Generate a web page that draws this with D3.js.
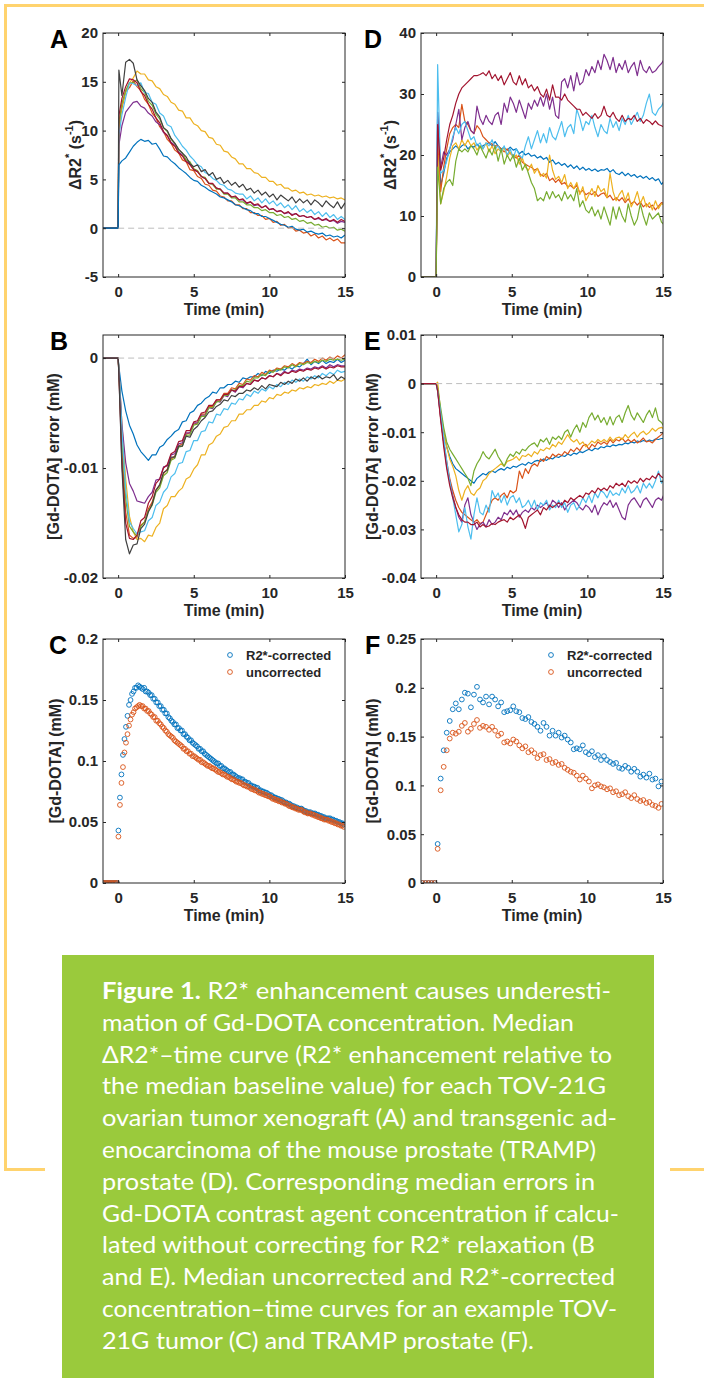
<!DOCTYPE html>
<html>
<head>
<meta charset="utf-8">
<script src="https://cdn.jsdelivr.net/npm/d3@7"></script>
<style>
  body { margin: 0; background: #fff; }
  svg { display: block; }
</style>
</head>
<body>
<div id="figure"></div>
<script>
// ---------------------------------------------------------------
// Data
// ---------------------------------------------------------------

// time grids (min)
const timeAB = [-1, 0, 0.05].concat(d3.range(1, 61).map(i => i * 0.25));
const timeDE = [-1, 0].concat(d3.range(76).map(i => 0.1 + 0.2 * i));
const timeC = d3.range(160).map(i => -0.98 + 0.1 * i);
const timeF = d3.range(80).map(i => -0.9 + 0.2 * i);

// Panel A: delta R2* (1/s), TOV-21G tumours
const aBlue = [0, 0, 6.5,
  6.9, 7.2, 7.8, 8.4,  8.8, 9.1, 8.9, 9.0,  8.6, 8.7, 8.1, 7.4,  7.3, 6.9, 6.6, 6.2,
  5.9, 5.6, 5.2, 4.9,  4.8, 4.4, 4.2, 3.9,  3.7, 3.5, 3.2, 3.1,  2.9, 2.7, 2.4, 2.3,
  2.1, 1.9, 1.8, 1.5,  1.5, 1.2, 1.2, 1.0,  0.8, 0.6, 0.4, 0.3,  0.1, 0.2, -0.1, -0.2,
  -0.1, -0.4, -0.3, -0.5,  -0.6, -0.5, -0.8, -0.7,  -0.9, -0.8, -1.0, -0.7];
const aRed = [0, 0, 11.0,
  12.3, 14.0, 14.4, 15.1,  14.5, 14.1, 13.2, 12.7,  11.8, 11.3, 10.4, 9.9,  9.1, 8.7, 8.0, 7.7,
  7.0, 6.8, 6.0, 5.9,  5.3, 5.1, 4.5, 4.4,  3.9, 3.8, 3.3, 3.2,  2.8, 2.8, 2.4, 2.4,
  2.0, 2.0, 1.6, 1.6,  1.3, 1.3, 0.9, 1.0,  0.6, 0.7, 0.3, 0.4,  0.0, 0.1, -0.3, -0.2,
  -0.5, -0.4, -0.8, -0.6,  -1.0, -0.8, -1.2, -1.0,  -1.3, -1.1, -1.5, -1.5];
const aYellow = [0, 0, 9.5,
  12.5, 14.0, 14.9, 15.4,  16.1, 15.8, 15.8, 15.2,  15.1, 14.5, 14.3, 13.7,  13.5, 12.9, 12.7, 12.1,
  12.0, 11.3, 11.3, 10.7,  10.5, 10.0, 9.9, 9.3,  9.2, 8.6, 8.5, 7.9,  7.8, 7.3, 7.1, 6.6,
  6.6, 6.1, 6.1, 5.7,  5.6, 5.2, 5.2, 4.8,  4.8, 4.4, 4.5, 4.1,  4.1, 3.8, 3.9, 3.6,
  3.7, 3.4, 3.5, 3.3,  3.4, 3.2, 3.3, 3.1,  3.2, 3.0, 3.1, 2.9];
const aPurple = [0, 0, 8.5,
  10.5, 11.9, 12.4, 12.9,  13.0, 12.5, 12.3, 11.8,  11.5, 10.9, 10.6, 9.8,  9.5, 8.8, 8.5, 7.8,
  7.5, 6.9, 6.6, 6.0,  5.8, 5.3, 5.1, 4.6,  4.5, 4.1, 4.0, 3.6,  3.6, 3.2, 3.2, 2.9,
  2.9, 2.5, 2.7, 2.3,  2.4, 2.1, 2.3, 1.9,  2.0, 1.7, 1.8, 1.5,  1.6, 1.4, 1.5, 1.2,
  1.3, 1.1, 1.2, 0.9,  1.0, 0.8, 0.9, 0.7,  0.8, 0.5, 0.7, 0.6];
const aGreen = [0, 0, 10.5,
  12.8, 14.1, 14.9, 14.9,  15.2, 14.3, 13.9, 13.0,  12.6, 11.7, 11.2, 10.3,  9.9, 9.1, 8.7, 8.0,
  7.7, 7.0, 6.8, 6.1,  5.9, 5.3, 5.2, 4.6,  4.5, 4.0, 4.0, 3.5,  3.5, 3.1, 3.1, 2.7,
  2.7, 2.4, 2.4, 2.1,  2.1, 1.8, 1.9, 1.6,  1.6, 1.3, 1.4, 1.1,  1.2, 0.9, 1.0, 0.7,
  0.8, 0.5, 0.6, 0.3,  0.4, 0.1, 0.2, 0.0,  0.1, -0.2, -0.1, -0.3];
const aLightBlue = [0, 0, 9.5,
  11.6, 13.4, 14.9, 14.8,  14.6, 14.9, 13.9, 13.8,  12.9, 12.7, 11.8, 11.5,  10.6, 10.4, 9.5, 9.0,
  8.4, 8.0, 7.4, 7.0,  6.5, 6.3, 5.7, 5.5,  5.1, 4.9, 4.5, 4.4,  4.0, 3.9, 3.6, 3.5,
  3.5, 3.0, 3.3, 2.8,  3.1, 2.6, 3.0, 2.5,  2.8, 2.3, 2.6, 2.1,  2.4, 1.9, 2.3, 1.7,
  2.0, 1.6, 1.9, 1.4,  1.7, 1.2, 1.6, 1.1,  1.4, 0.9, 1.2, 0.9];
const aDarkRed = [0, 0, 11.5,
  13.3, 14.5, 15.3, 15.2,  14.9, 14.0, 13.6, 12.7,  12.2, 11.3, 10.8, 9.9,  9.5, 8.7, 8.4, 7.7,
  7.4, 6.8, 6.5, 6.0,  5.8, 5.3, 5.1, 4.6,  4.6, 4.1, 4.0, 3.6,  3.6, 3.2, 3.3, 2.9,
  3.0, 2.6, 2.7, 2.4,  2.5, 2.1, 2.3, 1.9,  2.0, 1.7, 1.8, 1.5,  1.7, 1.3, 1.5, 1.2,
  1.3, 1.1, 1.2, 0.9,  1.1, 0.8, 1.0, 0.7,  0.9, 0.6, 0.9, 0.7];
const aBlack = [0, 0, 16.2,
  13.6, 17.0, 17.3, 16.9,  15.2, 14.6, 14.1, 13.3,  12.9, 11.9, 11.4, 10.3,  10.0, 9.2, 8.7, 8.1,
  7.7, 7.3, 6.6, 6.3,  6.5, 5.8, 6.0, 5.4,  5.7, 5.0, 5.2, 4.6,  4.9, 4.4, 4.7, 4.2,
  4.5, 3.9, 4.1, 3.6,  3.9, 3.4, 3.7, 3.2,  3.5, 2.9, 3.4, 3.1,  2.8, 3.2, 2.6, 3.0,
  2.6, 2.9, 2.4, 2.9,  2.6, 2.2, 2.8, 2.4,  2.1, 2.7, 2.0, 2.6];

// Panel B: [Gd-DOTA] error, in 1e-3 mM
const bBlue = [0, 0, -0.8,
  -3.0, -4.8, -6.1, -6.9,  -7.9, -8.5, -8.9, -9.3,  -8.8, -8.8, -8.1, -7.9,  -7.4, -7.1, -6.7, -6.5,
  -5.8, -5.7, -5.0, -4.8,  -4.3, -4.1, -3.7, -3.5,  -3.1, -3.2, -2.7, -2.7,  -2.4, -2.4, -2.1, -2.2,
  -1.8, -1.9, -1.7, -1.7,  -1.4, -1.6, -1.2, -1.4,  -1.1, -1.2, -1.0, -1.1,  -0.8, -1.0, -0.7, -0.8,
  -0.5, -0.1, -0.6, -0.3,  -0.5, -0.2, -0.5, -0.3,  -0.4, -0.1, -0.4, -0.2];
const bRed = [0, 0, -1.3,
  -8.5, -14.0, -16.1, -16.4,  -16.3, -15.2, -14.9, -13.7,  -13.1, -12.0, -11.6, -10.5,  -10.1, -9.2, -8.9, -8.0,
  -7.8, -6.9, -6.8, -6.0,  -5.9, -5.1, -5.1, -4.4,  -4.4, -3.8, -3.8, -3.2,  -3.2, -2.7, -2.8, -2.3,
  -2.4, -1.9, -2.0, -1.6,  -1.7, -1.3, -1.5, -1.1,  -1.2, -0.9, -1.0, -0.7,  -0.8, -0.5, -0.7, -0.4,
  -0.5, -0.3, -0.4, -0.1,  -0.3, 0.0, -0.2, 0.1,  -0.1, 0.2, 0.0, 0.3];
const bYellow = [0, 0, -1.0,
  -6.0, -11.0, -14.4, -15.8,  -16.5, -16.4, -16.7, -16.1,  -16.2, -15.4, -15.0, -13.7,  -13.4, -12.6, -12.6, -12.1,
  -11.8, -11.0, -10.8, -10.1,  -9.7, -8.8, -8.8, -7.9,  -7.7, -7.1, -6.9, -6.3,  -6.2, -5.7, -5.7, -5.1,
  -5.1, -4.7, -4.7, -4.3,  -4.3, -3.9, -4.0, -3.6,  -3.7, -3.3, -3.4, -3.1,  -3.2, -2.9, -3.0, -2.7,
  -2.8, -2.6, -2.7, -2.4,  -2.5, -2.3, -2.4, -2.1,  -2.3, -2.0, -2.1, -1.9];
const bPurple = [0, 0, -1.0,
  -6.0, -9.5, -11.4, -12.1,  -13.0, -13.1, -13.2, -12.6,  -12.2, -11.1, -11.0, -9.9,  -9.8, -8.8, -8.7, -7.8,
  -7.7, -6.8, -6.8, -5.9,  -5.9, -5.2, -5.2, -4.5,  -4.6, -3.9, -4.0, -3.4,  -3.5, -2.9, -3.1, -2.6,
  -2.7, -2.3, -2.4, -2.0,  -2.1, -1.8, -1.9, -1.6,  -1.7, -1.4, -1.5, -1.2,  -1.4, -1.1, -1.2, -1.0,
  -1.1, -0.9, -1.0, -0.8,  -0.9, -0.7, -0.9, -0.6,  -0.8, -0.6, -0.7, -0.7];
const bGreen = [0, 0, -1.1,
  -7.5, -12.8, -15.3, -15.8,  -16.2, -15.3, -14.9, -13.9,  -13.4, -12.2, -11.8, -10.7,  -10.4, -9.3, -9.1, -8.1,
  -8.0, -7.0, -7.0, -6.1,  -6.0, -5.3, -5.3, -4.5,  -4.5, -4.0, -3.9, -3.4,  -3.4, -2.9, -2.9, -2.5,
  -2.5, -2.1, -2.2, -1.8,  -1.8, -1.5, -1.6, -1.2,  -1.3, -1.0, -1.1, -0.8,  -0.9, -0.6, -0.8, -0.5,
  -0.6, -0.4, -0.5, -0.3,  -0.4, -0.2, -0.3, -0.1,  -0.2, -0.1, -0.2, -0.1];
const bLightBlue = [0, 0, -1.0,
  -6.5, -12.0, -14.9, -15.5,  -16.0, -15.8, -15.7, -14.8,  -14.5, -13.4, -13.1, -12.2,  -11.8, -10.8, -10.5, -9.6,
  -9.5, -8.5, -8.4, -7.5,  -7.5, -6.7, -6.6, -5.8,  -5.9, -5.1, -5.2, -4.6,  -4.7, -4.1, -4.2, -3.7,
  -3.8, -3.3, -3.5, -3.0,  -3.2, -2.8, -3.0, -2.6,  -2.8, -2.4, -2.6, -2.2,  -2.4, -2.0, -2.2, -1.9,
  -2.1, -1.7, -1.9, -1.6,  -1.8, -1.4, -1.6, -1.3,  -1.5, -1.1, -1.3, -1.2];
const bDarkRed = [0, 0, -1.4,
  -9.5, -15.0, -16.4, -16.5,  -16.1, -14.8, -14.5, -13.2,  -12.6, -11.4, -11.0, -10.0,  -9.7, -8.7, -8.5, -7.6,
  -7.5, -6.6, -6.6, -5.8,  -5.7, -5.0, -4.9, -4.3,  -4.3, -3.8, -3.8, -3.3,  -3.3, -2.9, -3.0, -2.6,
  -2.6, -2.3, -2.4, -2.0,  -2.1, -1.8, -1.9, -1.6,  -1.7, -1.4, -1.6, -1.3,  -1.4, -1.2, -1.3, -1.1,
  -1.2, -1.0, -1.1, -0.9,  -1.0, -0.8, -1.0, -0.8,  -0.9, -0.7, -0.8, -0.8];
const bBlack = [0, 0, -1.5,
  -10.0, -16.5, -17.8, -17.0,  -16.9, -15.5, -15.1, -14.0,  -13.3, -12.0, -11.5, -10.4,  -10.2, -9.0, -9.0, -8.0,
  -8.0, -7.1, -7.2, -6.5,  -6.2, -5.7, -5.4, -4.9,  -4.8, -4.4, -4.2, -3.8,  -3.9, -3.4, -3.5, -3.2,
  -3.2, -2.9, -3.0, -2.7,  -2.9, -2.5, -2.8, -2.4,  -2.5, -2.6, -2.2, -2.4,  -2.1, -2.3, -1.9, -2.1,
  -1.8, -2.1, -1.7, -1.9,  -1.6, -1.9, -1.7, -1.8,  -1.5, -2.0, -1.7, -1.9];

// Panel D: delta R2* (1/s), TRAMP prostates
const dBlue = [0, 0,
  27, 15, 17, 19.5, 20.5,  21, 21.5, 21, 21.5, 21.8,  21, 21.5, 21.3, 21.8, 21.2,
  21.5, 21.8, 22, 21.5, 22.2,  21.5, 21, 21.2, 20.8, 21.3,  20.8, 21, 20.2, 20.6, 20,
  20.3, 19.8, 20, 19.5, 19.8,  19.3, 19.6, 18.8, 19.2, 18.5,  18.8, 18.3, 18.6, 18, 18.4,
  17.8, 18.2, 17.6, 18, 17.5,  17.8, 17.4, 17.7, 17.3, 17.6,  17.5, 17.8, 17.2, 17.6, 17,
  16.8, 17.2, 16.6, 17, 16.5,  16.8, 16.3, 16.6, 16.2, 16.5,  16, 16.3, 15.8, 16.1, 15.2,  15.8];
const dRed = [0, 0,
  22, 14, 18, 21, 23.5,  24.5, 25, 24.5, 28.3, 25.5,  25, 24, 23.5, 24.8, 24.2,
  23, 22.5, 22, 21.8, 21.5,  21.5, 21, 20.5, 21, 20.2,  20, 19.5, 20, 18.8, 18.5,
  18.2, 18, 17.5, 17.8, 16.8,  16.5, 17, 15.8, 16.2, 15.5,  16, 15.2, 15.5, 14.8, 15,
  14.5, 15, 13.8, 14.2, 13.5,  13.8, 13.5, 14, 13.2, 13.6,  13.8, 13, 13.4, 12.6, 13,
  12.5, 13, 12.2, 12.8, 12,  12.4, 11.8, 12.3, 11.5, 12,  11.4, 11.8, 11, 11.6, 12.2,  12];
const dYellow = [0, 0,
  20, 12, 14, 16.5, 19.5,  21.5, 22, 21, 22.5, 21.5,  22.5, 21.5, 22, 20.8, 21.5,
  21, 22, 20.5, 21.5, 20.2,  21, 20.5, 21.2, 19.8, 20.5,  19.5, 20, 18.5, 19.5, 18,
  17.5, 18.5, 17, 17.8, 16.5,  17, 16.2, 20, 17.5, 16,  16.5, 15.5, 16.8, 14.5, 15.5,
  14.5, 15.5, 13.5, 14.8, 12.5,  13.5, 14.5, 13.2, 15, 14,  14.5, 13, 17, 14, 12.5,
  13.5, 14.2, 12.5, 13.8, 11.5,  12.5, 14, 12, 13.2, 11.5,  12.2, 11, 12.5, 11.2, 12,  11.8];
const dPurple = [0, 0,
  27, 18, 20.5, 20, 21,  22.5, 25, 27.5, 22.5, 24.5,  25.5, 24, 23.5, 28, 26,
  25, 26.5, 25.5, 25, 26.5,  27, 25, 28.5, 27, 29.5,  28.5, 27, 29, 27.5, 26,
  28.5, 27.5, 29, 28, 29.5,  28, 30, 27.5, 29.5, 26.5,  26, 32, 32.5, 31, 33,
  30.5, 33.5, 31.5, 32, 34,  33, 34.5, 33.5, 35.5, 34,  36.5, 35.5, 34, 36, 33.5,
  35, 34, 35.5, 33.5, 34.5,  35.2, 33, 35.5, 34, 33.5,  34.5, 33.5, 33.8, 34.5, 35,  35.8];
const dGreen = [0, 0,
  18, 12, 14.5, 15.5, 16,  15, 19, 21, 20.5, 21,  20.5, 21.5, 21, 20, 21.5,
  20.5, 19.5, 21, 20, 21.5,  19, 21, 18.5, 20, 19,  20, 18, 19.5, 17.5, 18.5,
  17, 15.5, 14.5, 12.5, 13,  12.5, 14, 12.8, 14, 13,  13.5, 12.5, 14, 12.8, 13.5,
  12.5, 14.5, 11.5, 12.5, 11,  10.5, 11.5, 10, 11, 9.5,  11.5, 10, 8.5, 11.5, 9.5,
  11.5, 10, 9, 12, 10,  8.5, 9.5, 12, 10, 8.5,  10.5, 9.5, 10, 10.5, 9,  8.5];
const dLightBlue = [0, 0,
  34.8, 17, 17.5, 19, 21,  23, 24.5, 23.5, 25, 25.5,  24, 22.5, 23, 21.5, 22,
  21, 22, 21.5, 22.5, 21,  21.5, 20.5, 21.5, 20, 21,  19.5, 21, 20, 19.5, 21.5,
  23, 21, 22.5, 24, 22,  23.5, 22, 24.5, 23, 22.5,  24, 25.5, 23, 24.5, 25,
  23.5, 27.5, 26, 24, 25.5,  25, 26.5, 24.5, 23, 25,  24, 23.5, 26, 24.5, 25.5,
  24, 26, 25, 26.5, 25,  26, 27, 25.5, 26.5, 28.5,  30, 27, 26.5, 27.5, 28,  29];
const dDarkRed = [0, 0,
  25, 17.5, 19.5, 22.5, 25,  26.5, 28.5, 30, 31, 31.5,  32, 32.5, 33, 33, 33.2,
  33.5, 33, 33.8, 32.5, 33.2,  32.2, 33, 31.5, 32.5, 33.5,  32, 31.5, 33, 31.5, 32.5,
  31, 31.5, 30.5, 31.2, 30,  29.5, 30.8, 29, 31.5, 29.5,  29.5, 29, 30, 29, 28.5,
  28, 27.5, 27.5, 26.5, 27,  26.5, 26, 26.8, 26, 26.5,  28, 26.5, 26.2, 27, 26,
  25.5, 26.5, 25.5, 26, 25.8,  26.5, 25.5, 26, 25.2, 25.8,  25.5, 25, 25.6, 25, 24.8,  24.5];

// Panel E: [Gd-DOTA] error, in 1e-3 mM
const eBlue = [0, 0,
  -1, -6, -10, -13, -15,  -16.5, -17.5, -18, -18.5, -19,  -19.5, -20, -20.5, -19.5, -19,
  -18.5, -18.8, -18.2, -18, -18.3,  -17.8, -17.5, -17.8, -17.2, -17.5,  -17, -17.2, -16.8, -16.5, -16.8,
  -16.2, -16.5, -16, -15.8, -16,  -15.5, -15.8, -15.3, -15.5, -15,  -15.2, -14.8, -15, -14.5, -14.8,
  -14.3, -14.5, -14, -14.2, -13.8,  -13.5, -13.8, -13.3, -13.5, -13,  -13.2, -12.8, -13, -12.6, -12.8,
  -12.5, -12.6, -12.2, -12.4, -12,  -12.2, -11.8, -12, -11.7, -11.9,  -11.6, -11.8, -11.4, -11.5, -11.3,  -11.3];
const eRed = [0, 0,
  -1, -7, -12, -16, -19.5,  -22, -24, -25.5, -26.5, -27,  -27.5, -28, -28.5, -28, -28.8,
  -28.5, -27, -25.5, -24, -23.5,  -24, -23, -22.5, -23.5, -22,  -22.5, -22, -18, -19.5, -17.5,
  -18.5, -17, -16.5, -17, -15.5,  -16, -15, -15.5, -14.5, -15,  -14.5, -14.8, -14, -14.5, -13.5,
  -14, -13.2, -13.8, -12.8, -12.5,  -13.5, -12.5, -13, -12, -12.5,  -12, -12.5, -11.5, -12.2, -11.5,
  -11.8, -11.2, -12, -11.5, -12,  -11.5, -12.2, -11.8, -11.2, -12,  -11.8, -12.2, -11.5, -11, -10.5,  -9.8];
const eYellow = [0, 0,
  0.3, -6, -10, -13, -15.5,  -17, -19, -22, -24, -22,  -21, -22.5, -23, -22, -21.5,
  -20, -19.5, -18.5, -18, -17.5,  -17, -16.5, -17, -16, -15.8,  -15.5, -15, -15.8, -14.8, -15,
  -14.5, -15, -14, -14.5, -13.5,  -13.8, -13.2, -13.5, -12.5, -13,  -12, -12.5, -11.5, -10.5, -11.5,
  -12, -11.5, -12.5, -12, -13,  -12.5, -11.8, -12.2, -11.5, -12,  -11.5, -12, -11, -11.8, -11.2,
  -11, -11.5, -10.5, -11.2, -10.5,  -10, -11, -10.2, -9.8, -10.5,  -10, -9.2, -9.8, -9.2, -9,  -9.5];
const ePurple = [0, 0,
  -1.5, -7, -12, -17, -20,  -23, -25.5, -27.5, -28.5, -25,  -23.5, -27, -28.5, -30, -29,
  -28.5, -29.5, -28, -29, -28.5,  -27.5, -28, -26.5, -27, -26,  -27, -26, -27.5, -26.5, -26,
  -26.5, -25.5, -26, -25, -25.5,  -25, -24.5, -25.5, -24, -24.5,  -25.5, -24.5, -26, -25, -24.5,
  -24, -24.5, -25.5, -26, -25,  -25.5, -26.5, -25, -27, -25.5,  -24.5, -25, -24, -25.5, -24.5,
  -26, -27.5, -28, -25, -24,  -23.5, -24.5, -25.5, -24, -23.5,  -24.5, -25.5, -24, -23.5, -24,  -22.5];
const eGreen = [0, 0,
  -0.8, -5, -9, -12, -13.5,  -14.5, -15.5, -16.5, -17.5, -18.5,  -19.5, -21, -18, -16.5, -15.5,
  -14, -15, -15.5, -14.5, -13.5,  -15, -16, -17, -15.5, -14.5,  -15, -14, -14.5, -13.5, -13.8,
  -13, -12.5, -12.2, -13, -11.5,  -12, -11.2, -12.5, -11, -11.5,  -10.8, -11.5, -10, -9.5, -11,
  -9.5, -8.5, -10, -8, -9,  -7, -6, -7.5, -6.5, -8,  -7, -8.5, -6.8, -8.5, -7,
  -6.5, -8, -6, -4.5, -6.5,  -7.5, -6, -7, -8, -6.5,  -5.5, -7, -5, -7.5, -8,  -9];
const eLightBlue = [0, 0,
  -1.5, -6, -11, -16, -20,  -23.5, -27, -30.5, -29, -25.5,  -29.5, -32, -27, -23.5, -26.5,
  -27, -25, -26.5, -22, -23.5,  -22.5, -24.5, -23, -25, -23.5,  -23, -24.5, -23.5, -25.5, -25,
  -24, -25.5, -24, -26, -24.5,  -25, -24, -26, -25, -25.5,  -24, -25.5, -24.5, -26.5, -25,
  -24.5, -26, -25, -23.5, -24.5,  -23, -24.5, -22.5, -23.5, -22,  -22.5, -23.5, -22, -23, -22.5,
  -23, -21.5, -22.5, -21, -22.5,  -22, -21, -22.5, -20.5, -21.5,  -20.5, -21.5, -20, -18, -20.5,  -19.5];
const eDarkRed = [0, 0,
  -1.5, -7.5, -13, -17.5, -21,  -23.5, -25.5, -27, -28, -28.5,  -28.5, -29, -29, -28.5, -29.5,
  -29, -29.5, -29.3, -28.8, -29,  -28.5, -28.2, -28, -28.5, -27.5,  -28, -27.5, -27, -28, -29.8,
  -27.5, -27, -26.5, -26, -27,  -25.5, -26, -25, -25.5, -25,  -24.5, -25, -24, -24.5, -23.5,
  -24, -23.5, -23, -23.5, -22.5,  -22.8, -22, -22.5, -21.5, -22,  -21.5, -22, -21, -21.5, -20.5,
  -21, -20.5, -21.2, -20, -20.5,  -20, -20.5, -19.5, -20.2, -19.5,  -19.8, -19, -19.5, -18.5, -19.2,  -19.5];

// Panel C: [Gd-DOTA] (mM), example TOV-21G tumour
const cCorrected = [0, 0, 0, 0, 0, 0, 0, 0, 0, 0,
  .043, .070, .089, .105, .118, .128, .137, .146, .150, .155,
  .157, .160, .160, .162, .161, .160, .159, .160, .157, .157,
  .156, .154, .154, .151, .151, .148, .148, .145, .145, .142,
  .142, .139, .139, .136, .135, .133, .132, .130, .130, .127,
  .127, .125, .125, .122, .122, .120, .119, .117, .117, .115,
  .114, .113, .112, .110, .110, .108, .108, .106, .105, .104,
  .103, .102, .101, .100, .099, .098, .098, .096, .096, .094,
  .094, .093, .092, .091, .091, .089, .089, .088, .087, .086,
  .086, .085, .085, .083, .083, .082, .082, .080, .080, .079,
  .079, .078, .078, .076, .076, .075, .075, .074, .074, .073,
  .072, .072, .071, .070, .070, .069, .069, .068, .068, .067,
  .066, .066, .065, .065, .064, .063, .063, .062, .062, .061,
  .061, .061, .060, .059, .059, .058, .058, .058, .057, .057,
  .057, .056, .056, .055, .055, .054, .054, .053, .053, .053,
  .053, .052, .052, .051, .051, .050, .050, .049, .049, .048];
const cUncorrected = [0, 0, 0, 0, 0, 0, 0, 0, 0, 0,
  .038, .064, .082, .095, .107, .115, .122, .129, .134, .138,
  .140, .143, .144, .145, .146, .145, .145, .143, .143, .141,
  .141, .139, .138, .136, .136, .133, .133, .131, .130, .128,
  .127, .125, .124, .122, .121, .120, .119, .117, .116, .115,
  .114, .113, .112, .110, .110, .108, .108, .106, .106, .104,
  .104, .103, .102, .101, .101, .099, .099, .098, .097, .096,
  .096, .095, .094, .094, .093, .092, .091, .091, .090, .089,
  .089, .088, .087, .087, .086, .085, .085, .084, .083, .083,
  .082, .082, .081, .080, .080, .079, .079, .078, .077, .077,
  .076, .076, .075, .074, .074, .073, .073, .072, .072, .071,
  .071, .070, .069, .069, .068, .068, .067, .067, .066, .066,
  .065, .065, .064, .063, .063, .062, .062, .061, .061, .060,
  .060, .060, .059, .058, .058, .057, .057, .057, .056, .056,
  .055, .055, .054, .054, .053, .053, .052, .052, .052, .051,
  .051, .050, .050, .049, .049, .048, .048, .047, .047, .046];

// Panel F: [Gd-DOTA] (mM), example TRAMP prostate
const fCorrected = [0, 0, 0, 0, 0,
  .040, .107, .136, .154, .166,  .178, .184, .178, .188, .195,  .194, .180, .193, .201, .188,
  .185, .191, .183, .191, .188,  .181, .185, .175, .176, .177,  .181, .176, .175, .169, .168,
  .170, .165, .163, .160, .156,  .164, .160, .151, .156, .151,  .154, .149, .151, .147, .144,
  .137, .138, .137, .141, .134,  .132, .135, .129, .131, .126,  .130, .126, .124, .122, .123,
  .118, .117, .120, .118, .114,  .117, .114, .109, .111, .108,  .112, .106, .107, .099, .104];
const fUncorrected = [0, 0, 0, 0, 0,
  .035, .095, .119, .136, .148,  .154, .153, .155, .161, .164,  .155, .158, .163, .167, .159,
  .161, .160, .157, .160, .156,  .151, .153, .144, .145, .143,  .147, .145, .141, .138, .140,
  .134, .136, .133, .128, .131,  .132, .126, .127, .123, .124,  .121, .122, .118, .116, .114,
  .113, .110, .106, .110, .107,  .104, .097, .100, .101, .099,  .098, .096, .097, .093, .094,
  .090, .091, .093, .089, .087,  .090, .086, .084, .085, .082,  .083, .080, .079, .077, .081];

// tick values and caption
const xTicks = [0, 5, 10, 15];
const ticksA = [-5, 0, 5, 10, 15, 20];
const ticksB = [-20, -10, 0];
const ticksC = [0, 0.05, 0.1, 0.15, 0.2];
const ticksD = [0, 10, 20, 30, 40];
const ticksE = [-40, -30, -20, -10, 0, 10];
const ticksF = [0, 0.05, 0.1, 0.15, 0.2, 0.25];
const legendLabels = ["R2*-corrected", "uncorrected"];

const captionLines = [
  "R2* enhancement causes underesti-",
  "mation of Gd-DOTA concentration. Median",
  "\u0394R2*\u2013time curve (R2* enhancement relative to",
  "the median baseline value) for each TOV-21G",
  "ovarian tumor xenograft (A) and transgenic ad-",
  "enocarcinoma of the mouse prostate (TRAMP)",
  "prostate (D). Corresponding median errors in",
  "Gd-DOTA contrast agent concentration if calcu-",
  "lated without correcting for R2* relaxation (B",
  "and E). Median uncorrected and R2*-corrected",
  "concentration\u2013time curves for an example TOV-",
  "21G tumor (C) and TRAMP prostate (F)."
];
// right edge of each caption line, measured on the picture
const captionRight = [611, 574, 612, 606, 617, 596, 595, 619, 595, 615, 617, 534];

// ---------------------------------------------------------------
// Styles
// ---------------------------------------------------------------
const col = {
  blue: "#0072BD", red: "#D95319", yellow: "#EDB120", purple: "#7E2F8E",
  green: "#77AC30", lightBlue: "#4DBEEE", darkRed: "#A2142F", black: "#404040"
};
const axisColor = "#262626";
const axisFont = "'Liberation Sans', Arial, Helvetica, sans-serif";
const boxW = 242;

const width = 704, height = 1378;
const svg = d3.select("#figure")
  .append("svg")
  .attr("width", width)
  .attr("height", height);

// frame lines and caption box
const frameColor = "#FFD36E";
svg.append("path")
  .attr("d", "M704,5.5 H5.5 V1169.5 H45 M670,1169.5 H704")
  .attr("fill", "none")
  .attr("stroke", frameColor)
  .attr("stroke-width", 3);

// ---------------------------------------------------------------
// One panel
// ---------------------------------------------------------------
function drawPanel(p) {
  const bottom = p.top + p.h;
  const x = d3.scaleLinear().domain([-1, 15]).range([p.left, p.left + boxW]);
  const y = d3.scaleLinear().domain(p.yDomain).range([bottom, p.top]);
  const g = svg.append("g");

  g.append("clipPath").attr("id", "clip" + p.letter)
    .append("rect")
    .attr("x", p.left).attr("y", p.top)
    .attr("width", boxW).attr("height", p.h);

  const plot = g.append("g").attr("clip-path", `url(#clip${p.letter})`);

  p.series.forEach(s => {
    const pts = d3.zip(s.time, s.values);
    if (p.type === "line") {
      plot.append("path")
        .datum(pts)
        .attr("fill", "none")
        .attr("stroke", s.color)
        .attr("stroke-width", 1.2)
        .attr("stroke-linejoin", "round")
        .attr("d", d3.line().x(d => x(d[0])).y(d => y(d[1])));
    } else {
      plot.selectAll(null)
        .data(pts)
        .enter()
        .append("circle")
          .attr("cx", d => x(d[0]))
          .attr("cy", d => y(d[1]))
          .attr("r", 2.4)
          .attr("fill", "none")
          .attr("stroke", s.color)
          .attr("stroke-width", 0.9);
    }
  });

  // dashed zero reference
  if (p.zeroLine) {
    plot.append("line")
      .attr("x1", x(0)).attr("x2", x(15))
      .attr("y1", y(0)).attr("y2", y(0))
      .attr("stroke", "#BDBDBD")
      .attr("stroke-width", 1)
      .attr("stroke-dasharray", "6,4");
  }

  // axes: MATLAB style, ticks inside on all four sides
  const fmt = p.tickFormat || (d => String(d));
  const styleAxis = a => {
    a.select(".domain").remove();
    a.selectAll("line").attr("stroke", axisColor);
    a.selectAll("text").attr("fill", axisColor);
    a.attr("font-size", 15).attr("font-family", axisFont).attr("font-weight", "bold");
  };
  g.append("g")
    .attr("transform", `translate(0,${bottom})`)
    .call(d3.axisBottom(x).tickValues(xTicks).tickSize(-3).tickPadding(9).tickFormat(d => String(d)))
    .call(styleAxis);
  g.append("g")
    .attr("transform", `translate(0,${p.top})`)
    .call(d3.axisTop(x).tickValues(xTicks).tickSize(-3).tickFormat(""))
    .call(styleAxis);
  g.append("g")
    .attr("transform", `translate(${p.left},0)`)
    .call(d3.axisLeft(y).tickValues(p.yTicks).tickSize(-3).tickPadding(5).tickFormat(fmt))
    .call(styleAxis);
  g.append("g")
    .attr("transform", `translate(${p.left + boxW},0)`)
    .call(d3.axisRight(y).tickValues(p.yTicks).tickSize(-3).tickFormat(""))
    .call(styleAxis);

  g.append("rect")
    .attr("x", p.left).attr("y", p.top)
    .attr("width", boxW).attr("height", p.h)
    .attr("fill", "none")
    .attr("stroke", axisColor)
    .attr("stroke-width", 1);

  // axis titles
  g.append("text")
    .attr("x", p.left + boxW / 2)
    .attr("y", bottom + 38)
    .attr("text-anchor", "middle")
    .attr("font-family", axisFont).attr("font-weight", "bold")
    .attr("font-size", 16).attr("fill", axisColor)
    .text("Time (min)");

  const yl = g.append("text")
    .attr("transform", `translate(${p.ylabelX},${p.top + p.h / 2}) rotate(-90)`)
    .attr("text-anchor", "middle")
    .attr("dominant-baseline", "central")
    .attr("font-family", axisFont).attr("font-weight", "bold")
    .attr("font-size", 16).attr("fill", axisColor);
  if (p.ylabel === "dR2") {
    yl.append("tspan").text("\u0394R2");
    yl.append("tspan").attr("font-size", 11).attr("dy", -6).text("*");
    yl.append("tspan").attr("dy", 6).text(" (s");
    yl.append("tspan").attr("font-size", 11).attr("dy", -6).text("-1");
    yl.append("tspan").attr("dy", 6).text(")");
  } else {
    yl.text(p.ylabel);
  }

  // panel letter
  g.append("text")
    .attr("x", p.letterX).attr("y", p.top + 15)
    .attr("font-family", axisFont).attr("font-weight", "bold")
    .attr("font-size", 25).attr("fill", "#000")
    .text(p.letter);

  // legend for the scatter panels
  if (p.legendX) {
    p.series.forEach((s, i) => {
      const ly = p.top + 16 + i * 17;
      g.append("circle")
        .attr("cx", p.legendX).attr("cy", ly).attr("r", 2.4)
        .attr("fill", "none").attr("stroke", s.color).attr("stroke-width", 0.9);
      g.append("text")
        .attr("x", p.legendX + 16).attr("y", ly)
        .attr("dominant-baseline", "central")
        .attr("font-family", axisFont).attr("font-weight", "bold")
        .attr("font-size", 13).attr("fill", axisColor)
        .text(legendLabels[i]);
    });
  }
}

const micro = d => String(d / 1000);

drawPanel({
  letter: "A", letterX: 50, left: 103, top: 33, h: 244, type: "line",
  yDomain: [-5, 20], yTicks: ticksA, ylabel: "dR2", ylabelX: 75, zeroLine: true,
  series: [
    { time: timeAB, values: aRed, color: col.red },
    { time: timeAB, values: aYellow, color: col.yellow },
    { time: timeAB, values: aPurple, color: col.purple },
    { time: timeAB, values: aGreen, color: col.green },
    { time: timeAB, values: aLightBlue, color: col.lightBlue },
    { time: timeAB, values: aDarkRed, color: col.darkRed },
    { time: timeAB, values: aBlack, color: col.black },
    { time: timeAB, values: aBlue, color: col.blue }
  ]
});

drawPanel({
  letter: "B", letterX: 50, left: 103, top: 335, h: 243, type: "line",
  yDomain: [-20, 2.1], yTicks: ticksB, tickFormat: micro,
  ylabel: "[Gd-DOTA] error (mM)", ylabelX: 53, zeroLine: true,
  series: [
    { time: timeAB, values: bBlue, color: col.blue },
    { time: timeAB, values: bRed, color: col.red },
    { time: timeAB, values: bYellow, color: col.yellow },
    { time: timeAB, values: bPurple, color: col.purple },
    { time: timeAB, values: bGreen, color: col.green },
    { time: timeAB, values: bLightBlue, color: col.lightBlue },
    { time: timeAB, values: bDarkRed, color: col.darkRed },
    { time: timeAB, values: bBlack, color: col.black }
  ]
});

drawPanel({
  letter: "C", letterX: 49, left: 103, top: 639, h: 244, type: "scatter",
  yDomain: [0, 0.2], yTicks: ticksC, ylabel: "[Gd-DOTA] (mM)", ylabelX: 55,
  legendX: 230,
  series: [
    { time: timeC, values: cCorrected, color: col.blue },
    { time: timeC, values: cUncorrected, color: col.red }
  ]
});

drawPanel({
  letter: "D", letterX: 364, left: 421, top: 33, h: 244, type: "line",
  yDomain: [0, 40], yTicks: ticksD, ylabel: "dR2", ylabelX: 390,
  series: [
    { time: timeDE, values: dBlue, color: col.blue },
    { time: timeDE, values: dRed, color: col.red },
    { time: timeDE, values: dYellow, color: col.yellow },
    { time: timeDE, values: dPurple, color: col.purple },
    { time: timeDE, values: dLightBlue, color: col.lightBlue },
    { time: timeDE, values: dDarkRed, color: col.darkRed },
    { time: timeDE, values: dGreen, color: col.green }
  ]
});

drawPanel({
  letter: "E", letterX: 364, left: 421, top: 335, h: 243, type: "line",
  yDomain: [-40, 10], yTicks: ticksE, tickFormat: micro,
  ylabel: "[Gd-DOTA] error (mM)", ylabelX: 372, zeroLine: true,
  series: [
    { time: timeDE, values: eBlue, color: col.blue },
    { time: timeDE, values: eRed, color: col.red },
    { time: timeDE, values: eYellow, color: col.yellow },
    { time: timeDE, values: ePurple, color: col.purple },
    { time: timeDE, values: eGreen, color: col.green },
    { time: timeDE, values: eLightBlue, color: col.lightBlue },
    { time: timeDE, values: eDarkRed, color: col.darkRed }
  ]
});

drawPanel({
  letter: "F", letterX: 365, left: 421, top: 639, h: 244, type: "scatter",
  yDomain: [0, 0.25], yTicks: ticksF, ylabel: "[Gd-DOTA] (mM)", ylabelX: 372,
  legendX: 551,
  series: [
    { time: timeF, values: fCorrected, color: col.blue },
    { time: timeF, values: fUncorrected, color: col.red }
  ]
});

// ---------------------------------------------------------------
// Caption box
// ---------------------------------------------------------------
svg.append("rect")
  .attr("x", 62).attr("y", 955)
  .attr("width", 592).attr("height", height - 955)
  .attr("fill", "#9ACA3C");

const capX = 102, capY0 = 999, capStep = 31.8;
captionLines.forEach((line, i) => {
  const t = svg.append("text")
    .attr("x", capX)
    .attr("y", capY0 + i * capStep)
    .attr("font-family", "Lato, 'Open Sans', sans-serif")
    .attr("font-size", 22.5)
    .attr("fill", "#fff");
  if (i === 0) {
    t.append("tspan").attr("font-weight", "bold").text("Figure 1.");
    t.append("tspan").text(" " + line);
  } else {
    t.text(line);
  }
  t.attr("textLength", captionRight[i] - capX).attr("lengthAdjust", "spacingAndGlyphs");
});
</script>
</body>
</html>
